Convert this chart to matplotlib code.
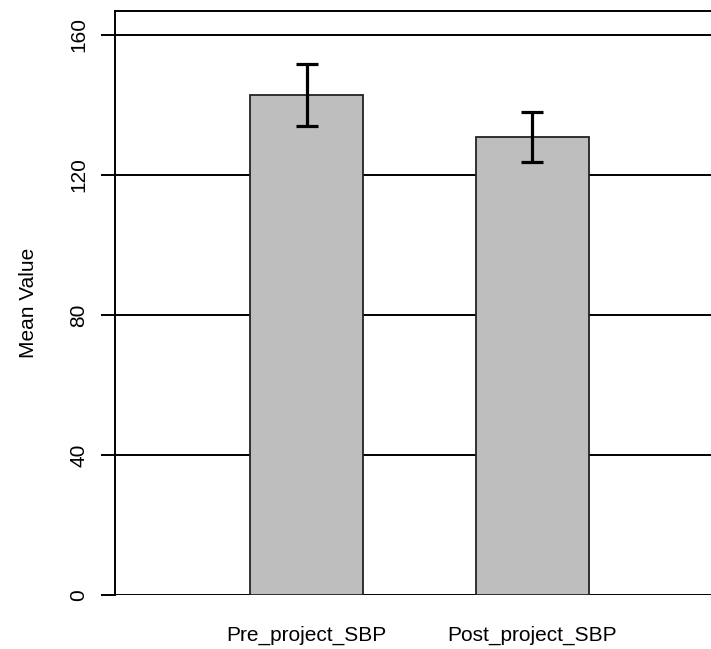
import matplotlib
matplotlib.use("Agg")
import matplotlib.pyplot as plt

plt.rcParams['font.family'] = ['Liberation Sans', 'DejaVu Sans']

# values
groups = ["Pre_project_SBP", "Post_project_SBP"]
means = [142.9, 130.9]
errs = [8.9, 7.2]
yticks = [0, 40, 80, 120, 160]

fig = plt.figure(figsize=(7.11, 6.49), dpi=100)
ax = fig.add_axes([115 / 711, 54 / 649, 596 / 711, 584.5 / 649])

xpos = [1.5, 3.5]

# horizontal reference lines behind the bars
for t in yticks:
    ax.axhline(t, color="black", lw=1.4, zorder=0)

ax.bar(xpos, means, width=1.0, color="#bebebe", edgecolor="#222222",
       linewidth=1.3, zorder=2)
ax.errorbar(xpos, means, yerr=errs, fmt="none", ecolor="black",
            elinewidth=2.3, capsize=8, capthick=2.3, zorder=3)

ax.set_xlim(-0.195, 5.08)
ax.set_ylim(0, 167)
ax.set_yticks(yticks)
ax.set_yticklabels([str(t) for t in yticks], rotation=90, va="center",
                   fontsize=15)
ax.tick_params(axis="y", direction="out", length=10, width=1.4, pad=9)
ax.set_xticks(xpos)
ax.set_xticklabels(groups, fontsize=15)
ax.tick_params(axis="x", length=0, pad=22)

ax.spines["right"].set_visible(False)
ax.spines["bottom"].set_visible(False)
for s in ["left", "top"]:
    ax.spines[s].set_linewidth(1.4)

ax.set_ylabel("Mean Value", fontsize=15, labelpad=23)

fig.savefig("out.png", dpi=100)
